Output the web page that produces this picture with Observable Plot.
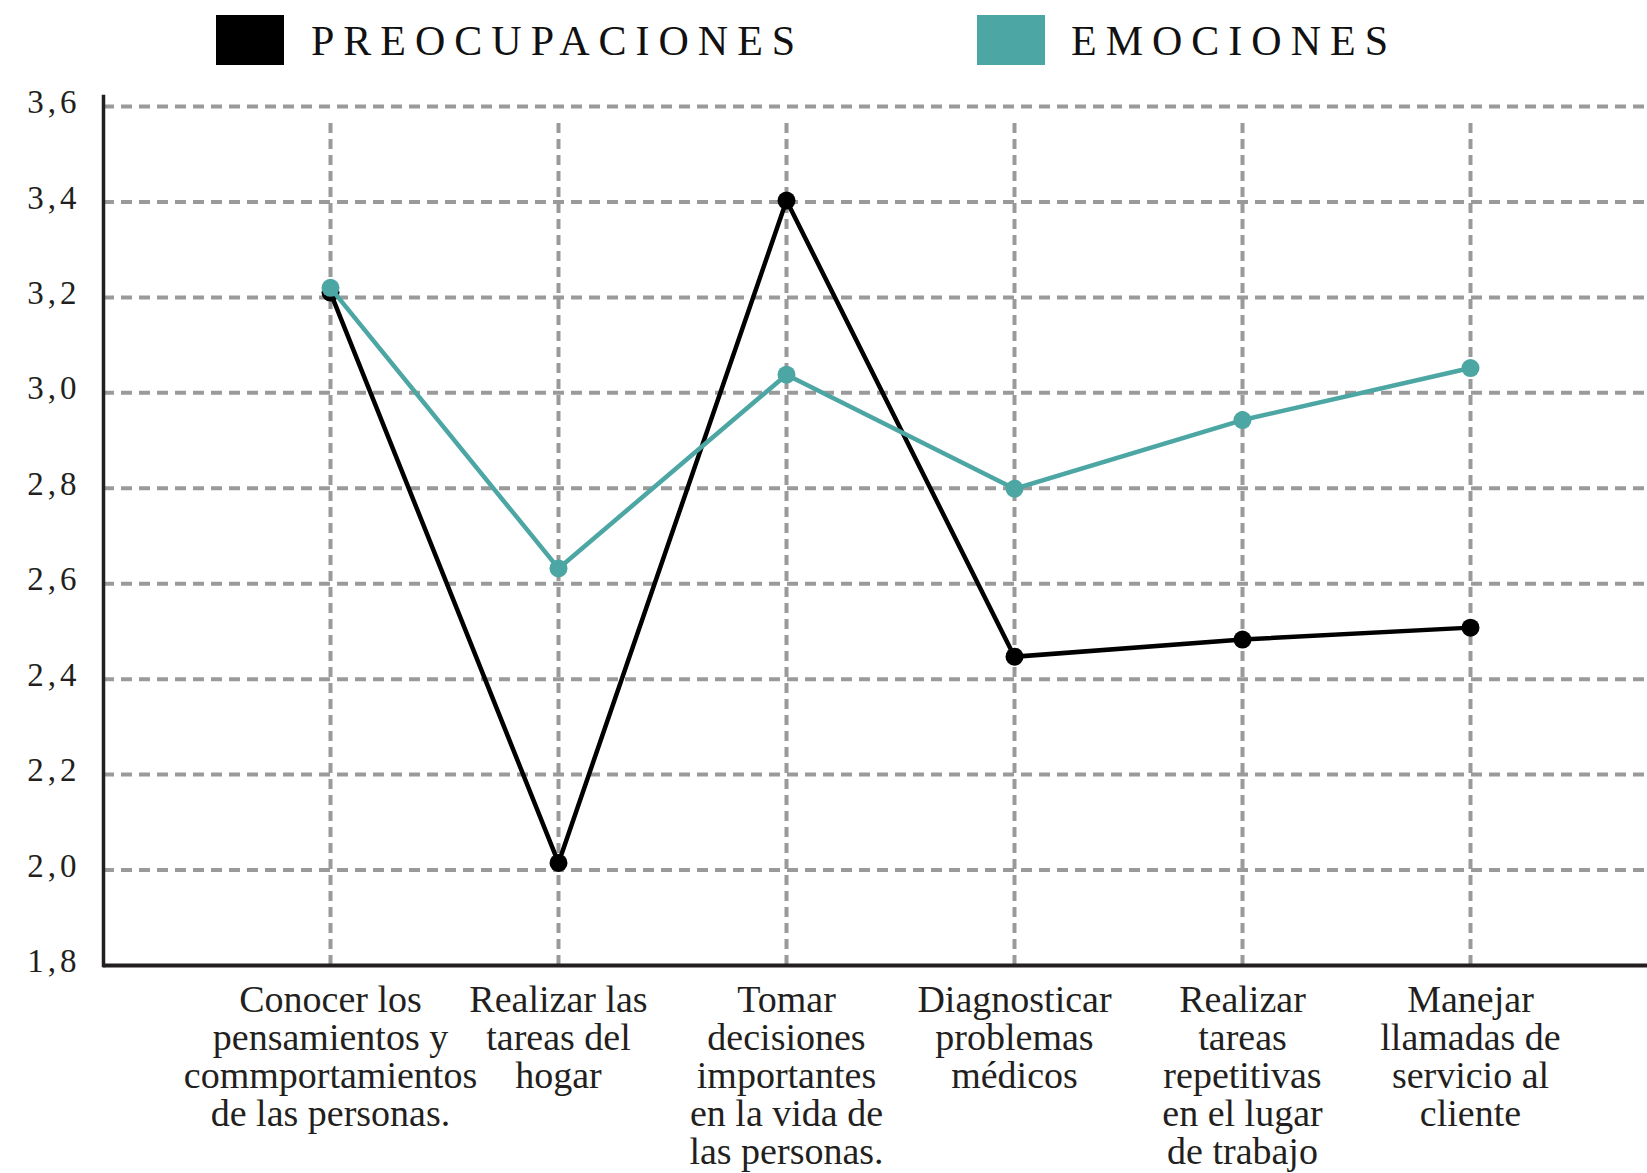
<!DOCTYPE html>
<html>
<head>
<meta charset="utf-8">
<script src="https://cdn.jsdelivr.net/npm/d3@7"></script>
<script src="https://cdn.jsdelivr.net/npm/@observablehq/plot@0.6"></script>
<style>
  body { margin: 0; background: #fff; font-family: "Liberation Serif", serif; }
  #legend { position: relative; height: 90px; width: 1647px; }
  .sw { position: absolute; top: 15px; width: 68px; height: 50px; }
  .lt { position: absolute; top: 15px; font-size: 42px; line-height: 52px; letter-spacing: 9px; color: #111; font-family: "Liberation Serif", serif; }
</style>
</head>
<body>
<div id="legend"></div>
<div id="chart"></div>
<script>
// ---- Data ----
const categories = ["c1", "c2", "c3", "c4", "c5", "c6"];
const categoryLabels = [
  "Conocer los\npensamientos y\ncommportamientos\nde las personas.",
  "Realizar las\ntareas del\nhogar",
  "Tomar\ndecisiones\nimportantes\nen la vida de\nlas personas.",
  "Diagnosticar\nproblemas\nmédicos",
  "Realizar\ntareas\nrepetitivas\nen el lugar\nde trabajo",
  "Manejar\nllamadas de\nservicio al\ncliente"
];
const preocupaciones = [3.21, 2.015, 3.403, 2.447, 2.483, 2.508];
const emociones = [3.22, 2.632, 3.038, 2.799, 2.943, 3.052];
const seriesNames = ["PREOCUPACIONES", "EMOCIONES"];
const seriesColors = ["#000000", "#4ca6a3"];
const yTicks = [1.8, 2.0, 2.2, 2.4, 2.6, 2.8, 3.0, 3.2, 3.4, 3.6];

// ---- Legend ----
const legend = document.getElementById("legend");
const legendPos = [[216, 311], [977, 1071]];
seriesNames.forEach((name, i) => {
  const sw = document.createElement("div");
  sw.className = "sw";
  sw.style.left = legendPos[i][0] + "px";
  sw.style.background = seriesColors[i];
  legend.appendChild(sw);
  const t = document.createElement("div");
  t.className = "lt";
  t.style.left = legendPos[i][1] + "px";
  t.textContent = name;
  legend.appendChild(t);
});

// ---- Table ----
const rows = [];
categories.forEach((c, i) => {
  rows.push({cat: c, value: preocupaciones[i], series: seriesNames[0]});
  rows.push({cat: c, value: emociones[i], series: seriesNames[1]});
});
const s0 = rows.filter(d => d.series === seriesNames[0]);
const s1 = rows.filter(d => d.series === seriesNames[1]);

const grid = "#9a9a9a";
const axisColor = "#231f20";

const chart = Plot.plot({
  width: 1647,
  height: 1083,
  marginLeft: 103,
  marginRight: 0,
  marginTop: 16,
  marginBottom: 208,
  x: {type: "point", domain: categories, range: [329, 1470], padding: 0, axis: null},
  y: {domain: [1.8, 3.6], axis: null},
  style: {fontFamily: "Liberation Serif, serif", background: "white", overflow: "visible", color: axisColor},
  marks: [
    Plot.ruleY(yTicks.filter(t => t > 1.8), {stroke: grid, strokeWidth: 4, strokeDasharray: "11,7"}),
    Plot.ruleX(categories, {x: d => d, y1: 1.8, y2: 3.575, stroke: grid, strokeWidth: 4, strokeDasharray: "10,6"}),
    Plot.ruleY([1.8], {stroke: axisColor, strokeWidth: 4}),
    Plot.frame({anchor: "left", stroke: axisColor, strokeWidth: 3.5, insetTop: -10}),
    Plot.line(s0, {x: "cat", y: "value", stroke: seriesColors[0], strokeWidth: 4.5}),
    Plot.dot(s0, {x: "cat", y: "value", r: 9, fill: seriesColors[0], stroke: null}),
    Plot.line(s1, {x: "cat", y: "value", stroke: seriesColors[1], strokeWidth: 4.5}),
    Plot.dot(s1, {x: "cat", y: "value", r: 9, fill: seriesColors[1], stroke: null}),
    Plot.text(yTicks, {y: d => d, text: d => d.toFixed(1).replace(".", ","), frameAnchor: "left", textAnchor: "end", dx: -23, dy: -4, fontSize: 33, fill: axisColor}),
    Plot.text(categories, {x: d => d, text: (d, i) => categoryLabels[i], frameAnchor: "bottom", lineAnchor: "top", dy: 20, fontSize: 38, lineHeight: 1.0, fill: axisColor})
  ]
});
d3.select(chart).selectAll("text")
  .filter(function() { return /^\d,\d$/.test(this.textContent); })
  .style("letter-spacing", "4px");
document.getElementById("chart").appendChild(chart);
</script>
</body>
</html>
